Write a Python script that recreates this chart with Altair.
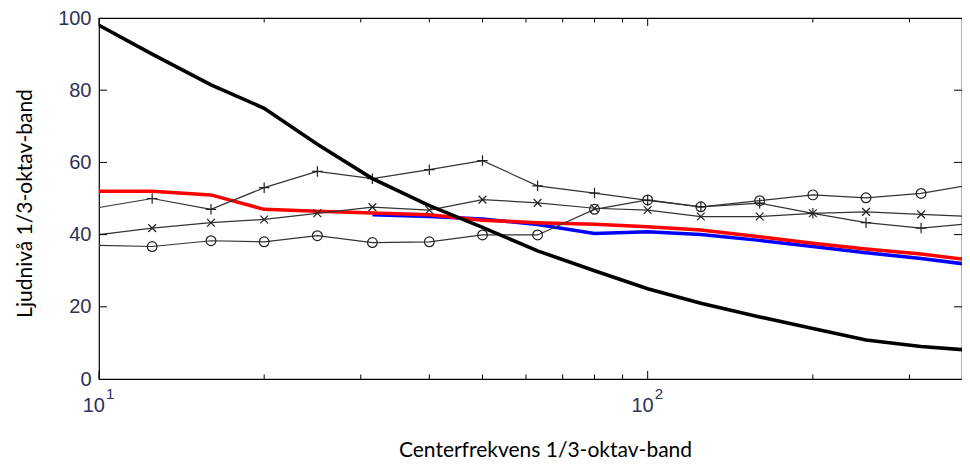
import altair as alt
import pandas as pd

# 1/3-octave centre frequencies
freqs = [10, 12.5, 16, 20, 25, 31.5, 40, 50, 63, 80, 100, 125, 160, 200, 250, 315, 400]
black = [98, 90, 81.5, 75, 65, 55.5, 48, 42, 35.5, 30, 25, 21, 17.2, 14, 10.8, 9, 7.8]
red = [52, 52, 51, 47, 46.5, 46, 45.5, 44, 43.3, 42.9, 42.2, 41.3, 39.4, 37.6, 36, 34.6, 32.7]
blue_freqs = [31.5, 40, 50, 63, 80, 100, 125, 160, 200, 250, 315, 400]
blue = [45.5, 45, 44.3, 42.8, 40.3, 40.8, 40, 38.4, 36.7, 35, 33.4, 31.4]
plus = [47.5, 50, 47, 53, 57.5, 55.5, 58, 60.5, 53.5, 51.5, 49.5, 47.7, 48.7, 45.9, 43.3, 41.8, 43.2]
cross = [40, 41.8, 43.3, 44.2, 45.9, 47.6, 46.8, 49.7, 48.8, 47.3, 46.8, 45, 45, 45.9, 46.3, 45.6, 44.9]
circle = [37, 36.7, 38.3, 38, 39.7, 37.8, 38, 39.9, 39.9, 47, 49.6, 47.7, 49.4, 51, 50.2, 51.4, 54.1]

x_major = [10, 100]
x_minor = [20, 30, 40, 50, 60, 70, 80, 90, 200, 300]
y_ticks = [20, 40, 60, 80]
y_labels = [0, 20, 40, 60, 80, 100]
exp_labels = ["1", "2"]

W, H = 863, 361
XMAX = 374
LABEL_COLOR = "#2e3158"
X_TITLE = "Centerfrekvens 1/3-oktav-band"
Y_TITLE = "Ljudnivå 1/3-oktav-band"

xs = alt.Scale(type="log", domain=[10, XMAX], nice=False)
ys = alt.Scale(domain=[0, 100], nice=False)

x_axis = alt.Axis(labels=False, ticks=False, domain=False, grid=False,
                  titleFont="Lato", titleFontSize=21, titleFontWeight="normal",
                  titleColor="#000000", titleX=446, titleY=77,
                  titleBaseline="alphabetic", titleAlign="center")
y_axis = alt.Axis(values=y_labels, ticks=False, domain=False, grid=False,
                  labelFont="Liberation Sans", labelFontSize=20,
                  labelColor=LABEL_COLOR, labelPadding=8,
                  titleFont="Lato", titleFontSize=21, titleFontWeight="normal",
                  titleColor="#000000", titleX=-68, titleY=185, titleAlign="center",
                  titleBaseline="alphabetic")

df = pd.DataFrame({"f": freqs, "black": black, "red": red,
                   "plus": plus, "cross": cross, "circle": circle})
dblue = pd.DataFrame({"f": blue_freqs, "blue": blue})


def X(field="f"):
    return alt.X(field + ":Q", scale=xs, axis=x_axis, title=X_TITLE)


def Y(field):
    return alt.Y(field + ":Q", scale=ys, axis=y_axis, title=Y_TITLE)


base = alt.Chart(df)

blue_line = alt.Chart(dblue).mark_line(color="#0000ff", strokeWidth=3.5, clip=True).encode(
    x=X(), y=Y("blue"))
red_line = base.mark_line(color="#ff0000", strokeWidth=3.5, clip=True).encode(
    x=X(), y=Y("red"))

thin = []
for fld in ["plus", "cross", "circle"]:
    thin.append(base.mark_line(color="#333333", strokeWidth=1.2, clip=True).encode(
        x=X(), y=Y(fld)))

mk = base.transform_filter("datum.f > 10 && datum.f < 374")
plus_pts = mk.mark_point(shape="M-1,0L1,0M0,-1L0,1", size=110, filled=False,
                         color="#222222", strokeWidth=1.2, opacity=1).encode(x=X(), y=Y("plus"))
cross_pts = mk.mark_point(shape="M-1,-1L1,1M-1,1L1,-1", size=60, filled=False,
                          color="#222222", strokeWidth=1.2, opacity=1).encode(x=X(), y=Y("cross"))
circ_pts = mk.mark_point(shape="circle", size=95, filled=False,
                         color="#222222", strokeWidth=1.2, opacity=1).encode(x=X(), y=Y("circle"))

black_line = base.mark_line(color="#000000", strokeWidth=3.6, clip=True).encode(
    x=X(), y=Y("black"))

# inward MATLAB-style ticks
dmaj = pd.DataFrame({"f": x_major})
dmin = pd.DataFrame({"f": x_minor})
tick_layers = []
for d, ln in [(dmaj, 8), (dmin, 4.5)]:
    tick_layers.append(alt.Chart(d).mark_rule(color="#000000", strokeWidth=1).encode(
        x=X(), y=alt.value(H), y2=alt.value(H - ln)))
    tick_layers.append(alt.Chart(d).mark_rule(color="#000000", strokeWidth=1).encode(
        x=X(), y=alt.value(0), y2=alt.value(ln)))
dy = pd.DataFrame({"v": y_ticks})
tick_layers.append(alt.Chart(dy).mark_rule(color="#000000", strokeWidth=1).encode(
    y=Y("v"), x=alt.value(0), x2=alt.value(8)))
tick_layers.append(alt.Chart(dy).mark_rule(color="#000000", strokeWidth=1).encode(
    y=Y("v"), x=alt.value(W), x2=alt.value(W - 8)))

# x tick labels 10^1, 10^2
dl = pd.DataFrame({"f": x_major, "e": exp_labels})
lab10 = alt.Chart(dl).mark_text(font="Liberation Sans", fontSize=20, color=LABEL_COLOR,
                                align="right", baseline="alphabetic", dx=6).encode(
    x=X(), y=alt.value(H + 33), text=alt.value("10"))
labexp = alt.Chart(dl).mark_text(font="Liberation Sans", fontSize=15, color=LABEL_COLOR,
                                 align="left", baseline="alphabetic", dx=7).encode(
    x=X(), y=alt.value(H + 20), text="e:N")

chart = alt.layer(
    blue_line, red_line, *thin, plus_pts, cross_pts, circ_pts, black_line,
    *tick_layers, lab10, labexp
).properties(
    width=W, height=H,
    autosize=alt.AutoSizeParams(type="none"),
    padding={"left": 91, "top": 10, "right": 0, "bottom": 83},
    background="#ffffff",
).configure_view(stroke="#000000", strokeWidth=1.2)

chart.save("out.html", embed_options={"renderer": "svg", "actions": False})
